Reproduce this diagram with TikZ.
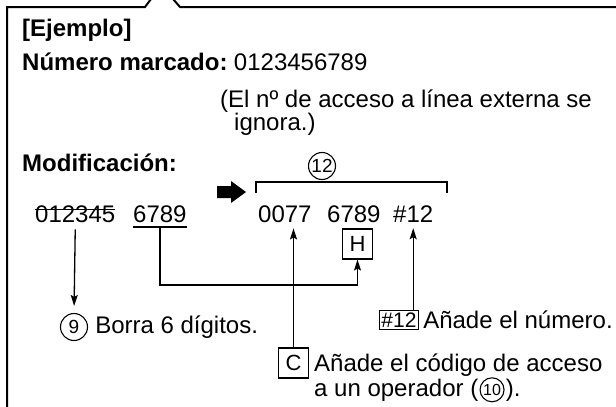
\documentclass[tikz,border=0pt]{standalone}
\usepackage{fontspec}
\setmainfont{Liberation Sans}
\usetikzlibrary{arrows.meta,positioning,calc}
\tikzset{
  tnode/.style={inner sep=0pt,anchor=base west,font=\fontsize{24}{26}\selectfont},
  hnode/.style={tnode,font=\fontsize{24}{26}\selectfont\bfseries},
  knode/.style={rectangle,draw,line width=1.1pt,inner xsep=2pt,inner ysep=2pt,font=\fontsize{22}{24}\selectfont},
  bknode/.style={knode,minimum width=30pt,minimum height=30pt},
  cnode/.style={circle,draw,line width=1.1pt,inner sep=0pt,minimum size=27pt,font=\fontsize{19}{19}\selectfont},
  de/.style={-{Stealth[length=11pt,width=7pt,inset=2pt]},line width=1.3pt},
  ln/.style={line width=1.3pt},
  frame/.style={line width=2pt}
}

\begin{document}
\begin{tikzpicture}[x=1pt,y=-1pt]
\useasboundingbox (0,0) rectangle (616,407);
% callout frame, open at right and bottom
\draw[frame] (617,7) -- (180,7) -- (173,-1);
\draw[frame] (151,-1) -- (145,7) -- (7,7) -- (7,408);

\node[hnode] (ej) at (22,36) {[Ejemplo]};
\node[hnode] (nm) at (22,70) {Número marcado:};
\node[tnode] (num) at ([xshift=6pt]nm.base east) {0123456789};
\node[tnode] (nt1) at (220,107) {(El nº de acceso a línea externa se};
\node[tnode] (nt2) at (234,130) {ignora.)};
\node[hnode] (mod) at (22,171) {Modificación:};

% dialled number
\node[tnode] (del) at (35,222) {012345};
\node[tnode] (keep) at (133,222) {6789};
\draw[ln] ([yshift=4pt]del.west) -- ([yshift=4pt]del.east);
\draw[ln] ([yshift=-5pt]keep.base west) -- ([yshift=-5pt]keep.base east);

% modified number
\fill (217,186) -- (231,186) -- (231,181) -- (246,192) -- (231,203) -- (231,198) -- (217,198) -- cycle;
\node[tnode] (r0077) at (258,222) {0077};
\node[tnode] (r6789) at (327,222) {6789};
\node[tnode] (r12) at (393,222) {\#12};
\draw[ln] (256,193) -- (256,182) -- (447,182) -- (447,193);
\node[cnode] (n12) at (322,166) {12};

% notes
\node[cnode] (n9) at (74,327) {9};
\node[tnode,right=7pt of n9.east,anchor=west] (borra) {Borra 6 dígitos.};
\node[bknode] (hkey) at (357.5,244) {H};
\node[bknode] (ckey) at (293.5,363) {C};
\node[tnode] (cod1) at (314,371) {Añade el código de acceso};
\node[tnode] (cod2) at (314,396) {a un operador (};
\node[cnode,minimum size=24pt,font=\fontsize{16}{16}\selectfont,right=1pt of cod2.east] (n10) {10};
\node[tnode] (cod3) at ([xshift=1pt]n10.east |- cod2.base) {).};
\node[knode,font=\fontsize{21}{22}\selectfont] (k12) at (399,320) {\#12};
\node[tnode,right=4pt of k12.east,anchor=west] (anade) {Añade el número.};

% connectors
\draw[de,shorten >=7pt] ([yshift=-7pt]del.south) -- (n9.north);
\draw[de] ([yshift=-5pt]keep.base) -- ++(0,58) -| (hkey.south);
\draw[de,shorten >=6pt] (ckey.north) -- (ckey.north |- r0077.south);
\draw[de,shorten >=6pt] (k12.north -| r12.south) -- (r12.south);
\end{tikzpicture}
\end{document}
